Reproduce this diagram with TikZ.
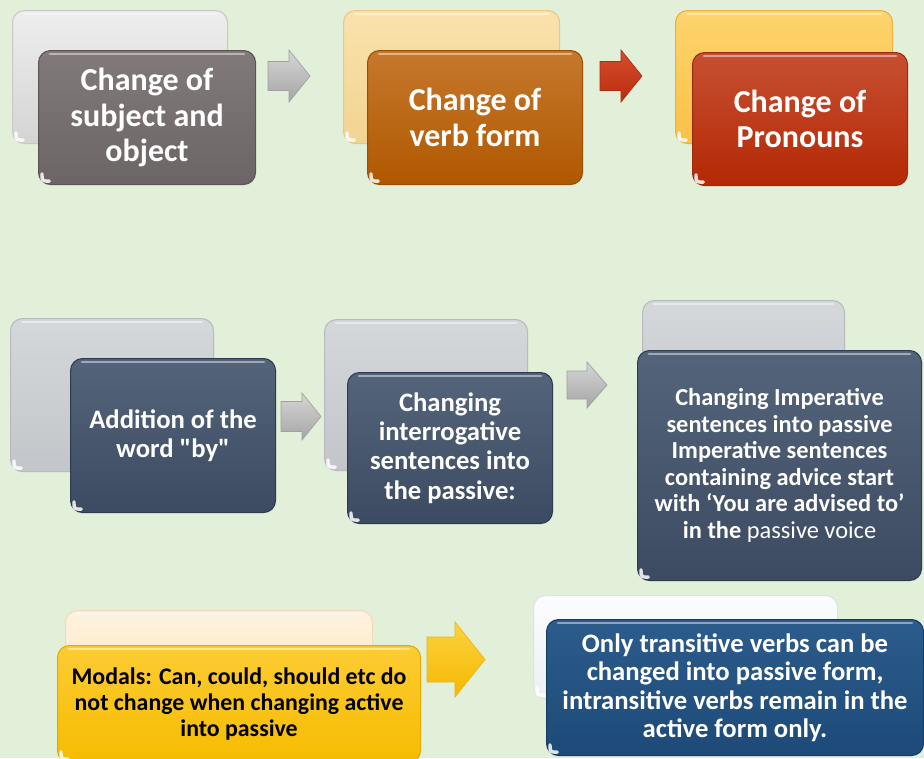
\documentclass[tikz,border=0pt]{standalone}
\usepackage{fontspec}
\setmainfont{Carlito}
\usetikzlibrary{shadings}
\newcommand\PX{0.75pt}
\definecolor{bg}{RGB}{226,239,217}
\definecolor{k1t}{RGB}{238,238,238}\definecolor{k1b}{RGB}{212,212,212}\definecolor{k1d}{RGB}{200,200,200}
\definecolor{f1t}{RGB}{130,122,122}\definecolor{f1b}{RGB}{108,101,101}\definecolor{f1d}{RGB}{90,84,84}
\definecolor{k2t}{RGB}{250,226,172}\definecolor{k2b}{RGB}{242,212,146}\definecolor{k2d}{RGB}{232,200,128}
\definecolor{f2t}{RGB}{198,120,45}\definecolor{f2b}{RGB}{176,88,0}\definecolor{f2d}{RGB}{154,78,0}
\definecolor{k3t}{RGB}{253,212,110}\definecolor{k3b}{RGB}{251,192,70}\definecolor{k3d}{RGB}{234,176,64}
\definecolor{f3t}{RGB}{198,80,50}\definecolor{f3b}{RGB}{180,40,5}\definecolor{f3d}{RGB}{154,42,16}
\definecolor{kgt}{RGB}{213,216,219}\definecolor{kgb}{RGB}{194,197,201}\definecolor{kgd}{RGB}{184,187,190}
\definecolor{fst}{RGB}{84,100,122}\definecolor{fsb}{RGB}{60,75,97}\definecolor{fsd}{RGB}{46,59,78}
\definecolor{k7t}{RGB}{254,242,222}\definecolor{k7b}{RGB}{253,229,194}\definecolor{k7d}{RGB}{242,218,184}
\definecolor{f7t}{RGB}{253,204,52}\definecolor{f7b}{RGB}{245,188,0}\definecolor{f7d}{RGB}{224,170,0}
\definecolor{k8t}{RGB}{251,252,253}\definecolor{k8b}{RGB}{236,240,244}\definecolor{k8d}{RGB}{222,226,232}
\definecolor{f8t}{RGB}{44,92,140}\definecolor{f8b}{RGB}{29,74,120}\definecolor{f8d}{RGB}{22,58,96}
\definecolor{agt}{RGB}{214,214,214}\definecolor{agb}{RGB}{165,165,165}\definecolor{agd}{RGB}{160,160,160}
\definecolor{art}{RGB}{214,76,44}\definecolor{arb}{RGB}{184,46,14}\definecolor{ard}{RGB}{170,45,20}
\definecolor{ayt}{RGB}{253,210,64}\definecolor{ayb}{RGB}{245,184,0}\definecolor{ayd}{RGB}{235,180,20}
\newcommand\gloss[1]{%
  \draw[white,opacity=.45,line width=2pt,line cap=round]
    ([xshift=9pt,yshift=-3pt]#1.north west) -- ([xshift=-9pt,yshift=-3pt]#1.north east);
  \draw[white,opacity=.85,line width=2.6pt,line cap=round]
    ([xshift=3pt,yshift=8.5pt]#1.south west) .. controls ([xshift=3pt,yshift=3pt]#1.south west) .. ([xshift=8.5pt,yshift=3pt]#1.south west);}
\newcommand\barrow[7]{%
  \path[#7] (#1,#4-#5) -- (#2,#4-#5) -- (#2,#4-#6) -- (#3,#4) -- (#2,#4+#6) -- (#2,#4+#5) -- (#1,#4+#5) -- cycle;}
\begin{document}
\begin{tikzpicture}[x=0.75pt,y=-0.75pt,
  gbox/.style={rounded corners=9pt, inner sep=2pt, anchor=north west, align=center, text=white, line width=0.8pt},
  sz/.style 2 args={minimum width=#1*\PX, minimum height=#2*\PX},
  sh/.style={top color=#1t, bottom color=#1b, draw=#1d},
  tfont/.style={font=\bfseries\fontsize{24}{26.5}\selectfont},
  mfont/.style={font=\bfseries\fontsize{20}{22}\selectfont},
  barr/.style={top color=#1t, bottom color=#1b, draw=#1d, line width=0.5pt}
]
\useasboundingbox[fill=bg] (0,0) rectangle (924,758);

% ---------- top row ----------
\node[gbox, sz={215}{133}, sh=k1] (b1k) at (12,10) {};
\gloss{b1k}
\node[gbox, sz={217}{134}, tfont, sh=f1] (b1f) at (38,50) {Change of\\subject and\\object};
\gloss{b1f}

\barrow{268}{289}{310}{76}{14.5}{26}{barr=ag}

\node[gbox, sz={216}{133}, sh=k2] (b2k) at (343,10) {};
\gloss{b2k}
\node[gbox, sz={215}{134}, tfont, sh=f2] (b2f) at (367,50) {Change of\\verb form};
\gloss{b2f}

\barrow{600}{621}{642}{76}{14.5}{26}{barr=ar}

\node[gbox, sz={217}{133}, sh=k3] (b3k) at (675,10) {};
\gloss{b3k}
\node[gbox, sz={215}{133}, tfont, sh=f3] (b3f) at (692,52) {Change of\\Pronouns};
\gloss{b3f}

% ---------- middle row ----------
\node[gbox, sz={203}{153}, sh=kg] (b4k) at (10,318) {};
\gloss{b4k}
\node[gbox, sz={205}{154}, mfont, sh=fs] (b4f) at (70,358) {Addition of the\\word \textquotedbl by\textquotedbl};
\gloss{b4f}

\barrow{281}{302}{321}{416.5}{15}{23.5}{barr=ag}

\node[gbox, sz={203}{151}, sh=kg] (b5k) at (324,319) {};
\gloss{b5k}
\node[gbox, sz={205}{151}, mfont, sh=fs] (b5f) at (347,372) {Changing\\interrogative\\sentences into\\the passive:};
\gloss{b5f}

\barrow{567}{587}{607}{385}{14}{23}{barr=ag}

\node[gbox, sz={202}{150}, sh=kg] (b6k) at (642,300) {};
\gloss{b6k}
\node[gbox, sz={284}{230}, sh=fs, font=\bfseries\fontsize{18.3}{19.9}\selectfont] (b6f) at (637,350) {Changing Imperative\\sentences into passive\\Imperative sentences\\containing advice start\\with ‘You are advised to’\\in the \mdseries passive voice};
\gloss{b6f}

% ---------- bottom row ----------
\node[gbox, sz={307}{90}, sh=k7] (b7k) at (65,610) {};
\gloss{b7k}
\node[gbox, sz={363}{117}, text=black, font=\bfseries\fontsize{17.9}{19.6}\selectfont, sh=f7] (b7f) at (57,645) {Modals: Can, could, should etc do\\not change when changing active\\into passive};
\gloss{b7f}

\barrow{427}{455}{485}{659.5}{22.5}{37.5}{barr=ay}

\node[gbox, sz={304}{103}, sh=k8] (b8k) at (533,595) {};
\gloss{b8k}
\node[gbox, sz={377}{136}, font=\bfseries\fontsize{20}{21.4}\selectfont, sh=f8] (b8f) at (546,619) {Only transitive verbs can be\\changed into passive form,\\intransitive verbs remain in the\\active form only.};
\gloss{b8f}
\end{tikzpicture}
\end{document}
